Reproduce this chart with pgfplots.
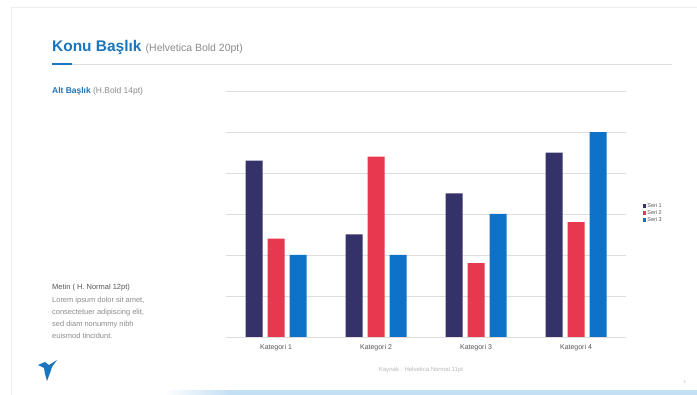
\documentclass[border=0pt]{standalone}
\usepackage{fontspec}
\setmainfont{Liberation Sans}
\usepackage{pgfplots}
\pgfplotsset{compat=1.18}
\definecolor{serA}{HTML}{353269}
\definecolor{serB}{HTML}{E8384F}
\definecolor{serC}{HTML}{0F72C9}
\definecolor{titleblue}{HTML}{1B75BC}
\definecolor{gridgray}{HTML}{DDDDDD}
\definecolor{txtgray}{HTML}{8C8C8C}
\definecolor{darkgray}{HTML}{555555}
\definecolor{stripblue}{HTML}{C3DFF4}
\begin{document}
\begin{tikzpicture}
\fill[white] (0,0) rectangle (697bp,395bp);
\useasboundingbox (0,0) rectangle (697bp,395bp);
% slide frame
\draw[gray!15, line width=0.8bp] (11bp,0) -- (11bp,388bp) -- (697bp,388bp);
% bottom strip
\fill[stripblue] (230bp,0) rectangle (697bp,4.5bp);
\shade[left color=white, right color=stripblue] (163bp,0) rectangle (231bp,4.5bp);
% title
\node[anchor=base west, inner sep=0pt] at (52bp,343bp)
  {\fontsize{15.5}{18}\selectfont\bfseries\color{titleblue}Konu Başlık\ \fontsize{10.5}{12}\selectfont\mdseries\color{txtgray}(Helvetica Bold 20pt)};
\draw[gridgray, line width=0.8bp] (52bp,331bp) -- (672bp,331bp);
\draw[titleblue, line width=2bp] (52bp,331bp) -- (72bp,331bp);
% subtitle
\node[anchor=base west, inner sep=0pt] at (52bp,301bp)
  {\fontsize{8.5}{10}\selectfont\bfseries\color{titleblue}Alt Başlık\ \mdseries\color{txtgray}(H.Bold 14pt)};
% body text
\node[anchor=base west, inner sep=0pt] at (52bp,105bp) {\fontsize{7.5}{9}\selectfont\color{darkgray}Metin ( H. Normal 12pt)};
\node[anchor=base west, inner sep=0pt] at (52bp,92bp) {\fontsize{7.5}{9}\selectfont\color{txtgray}Lorem ipsum dolor sit amet,};
\node[anchor=base west, inner sep=0pt] at (52bp,80bp) {\fontsize{7.5}{9}\selectfont\color{txtgray}consectetuer adipiscing elit,};
\node[anchor=base west, inner sep=0pt] at (52bp,68bp) {\fontsize{7.5}{9}\selectfont\color{txtgray}sed diam nonummy nibh};
\node[anchor=base west, inner sep=0pt] at (52bp,56bp) {\fontsize{7.5}{9}\selectfont\color{txtgray}euismod tincidunt.};
% logo
\fill[titleblue] (38bp,30bp) -- (45bp,33bp) -- (49bp,30bp) -- (57bp,35bp) -- (52bp,28bp) -- (50bp,22bp) -- (47bp,14bp) -- (45bp,21bp) -- (44bp,27bp) -- cycle;
% source
\node[anchor=base, inner sep=0pt] at (421bp,24bp) {\fontsize{6}{7}\selectfont\color{gray!55}Kaynak : Helvetica Normal 11pt};
% page number
\node[anchor=base, inner sep=0pt] at (685bp,12bp) {\fontsize{4}{5}\selectfont\color{gray!70}1};
\begin{axis}[
  at={(226bp,58bp)}, anchor=south west,
  scale only axis, width=400bp, height=246bp,
  ymin=0, ymax=6, xmin=-0.5, xmax=3.5,
  ybar=5bp, bar width=17bp,
  axis lines*=left,
  y axis line style={draw=none},
  x axis line style={gridgray, line width=0.8bp},
  ymajorgrids, grid style={gridgray, line width=0.7bp},
  ytick={0,1,2,3,4,5,6}, yticklabels={},
  ytick style={draw=none}, xtick style={draw=none},
  xtick={0,1,2,3},
  xticklabels={Kategori 1,Kategori 2,Kategori 3,Kategori 4},
  xticklabel style={font=\fontsize{7}{8}\selectfont, text=darkgray},
  legend cell align=left,
  legend style={draw=none, fill=none, at={(1.035,0.504)}, anchor=west,
    font=\fontsize{5.5}{6}\selectfont, text=darkgray, row sep=-0.5bp,
    nodes={inner sep=1bp}},
  legend image code/.code={\fill[#1] (0bp,-1.6bp) rectangle (3.2bp,1.6bp);},
]
\addplot[fill=serA, draw=none] coordinates {(0,4.3) (1,2.5) (2,3.5) (3,4.5)};
\addplot[fill=serB, draw=none] coordinates {(0,2.4) (1,4.4) (2,1.8) (3,2.8)};
\addplot[fill=serC, draw=none] coordinates {(0,2) (1,2) (2,3) (3,5)};
\legend{Seri 1,Seri 2,Seri 3}
\end{axis}
\end{tikzpicture}
\end{document}
